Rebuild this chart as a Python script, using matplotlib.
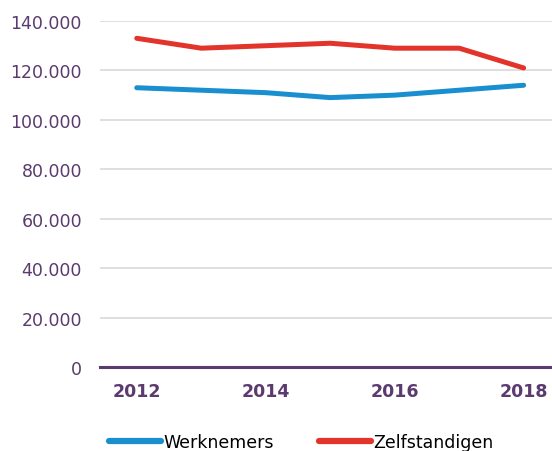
import matplotlib.pyplot as plt
from matplotlib.ticker import FuncFormatter

plt.rcParams['font.family'] = ['DejaVu Sans']

years = [2012, 2013, 2014, 2015, 2016, 2017, 2018]
werknemers = [113000, 112000, 111000, 109000, 110000, 112000, 114000]
zelfstandigen = [133000, 129000, 130000, 131000, 129000, 129000, 121000]

purple = '#5b3a6f'
blue = '#1a8fd0'
red = '#e2342a'

fig = plt.figure(figsize=(5.52, 4.52), dpi=100)
ax = fig.add_axes([100/552, 1 - 368/452, 452/552, 346/452])

ax.plot(years, werknemers, color=blue, lw=3.6, solid_capstyle='round', label='Werknemers')
ax.plot(years, zelfstandigen, color=red, lw=3.6, solid_capstyle='round', label='Zelfstandigen')

ax.set_ylim(0, 140000)
ax.set_xlim(2011.43, 2018.44)
ax.set_yticks(range(0, 140001, 20000))
ax.set_xticks([2012, 2014, 2016, 2018])
ax.yaxis.set_major_formatter(FuncFormatter(lambda v, p: f'{int(v):,}'.replace(',', '.')))
ax.grid(axis='y', color='#d9d9d9', lw=1.2)
ax.set_axisbelow(True)
for s in ['top', 'right', 'left']:
    ax.spines[s].set_visible(False)
ax.spines['bottom'].set_color(purple)
ax.spines['bottom'].set_linewidth(2.2)
ax.spines['bottom'].set_zorder(5)
ax.tick_params(axis='y', length=0, pad=13, labelsize=12.5, labelcolor=purple)
ax.tick_params(axis='x', length=0, pad=11, labelsize=12.5, labelcolor=purple)
for t in ax.get_xticklabels():
    t.set_fontweight('bold')

leg = fig.legend(loc='lower left', bbox_to_anchor=(93/552, -0.035), ncol=2, frameon=False,
                 fontsize=12.5, handlelength=3.0, handletextpad=0.15, columnspacing=2.6)
for h in leg.legend_handles:
    h.set_linewidth(4.5)

fig.savefig('out.png', dpi=100)
